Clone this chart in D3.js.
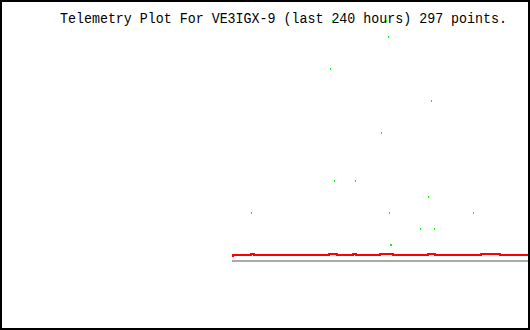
<!DOCTYPE html>
<html>
<head>
<meta charset="utf-8">
<script src="https://cdn.jsdelivr.net/npm/d3@7"></script>
<style>
  html, body { margin: 0; padding: 0; background: #fff; }
  svg { display: block; }
</style>
</head>
<body>
<svg id="chart" width="530" height="330"></svg>
<script>
// ---- data ----
const titleText = "Telemetry Plot For VE3IGX-9 (last 240 hours) 297 points.";
const hoursDomain = [240, 0];           // hours ago
const valueDomain = [0, 240];

// green channel samples (hours ago, value)
const greenHours  = [126.36, 90.45, 89.55, 88.64, 79.09, 67.27, 65.0, 64.09, 63.64, 63.18, 62.73, 49.55, 45.91, 44.55, 43.18, 25.45];
const greenValues = [48, 192, 240, 80, 80, 128, 240, 224, 48, 16, 16, 32, 64, 160, 32, 48];

// red channel (step breakpoints: hours ago, value)
const redHours  = [135.0, 134.5, 126.4, 125.0, 90.9, 87.3, 80.0, 78.6, 67.7, 61.8, 45.9, 42.7, 21.8, 13.2, 0];
const redValues = [5, 6, 7, 6, 7, 6, 7, 6, 7, 6, 7, 6, 7, 6, 6];

// grey baseline channel
const greyHours  = [135.0, 0];
const greyValues = [0, 0];

// ---- drawing ----
const svg = d3.select("#chart");
const W = 530, H = 330;

const x = d3.scaleLinear().domain(hoursDomain).range([1, 529]);
const y = d3.scaleLinear().domain(valueDomain).range([261, 21]);

svg.append("rect").attr("x", 0).attr("y", 0).attr("width", W).attr("height", H).attr("fill", "#fff");

svg.append("text")
  .attr("x", 60)
  .attr("y", 23)
  .attr("font-family", "'Liberation Mono', 'DejaVu Sans Mono', monospace")
  .attr("font-size", 14)
  .attr("textLength", 447)
  .attr("lengthAdjust", "spacingAndGlyphs")
  .attr("fill", "#000")
  .text(titleText);

const line = d3.line()
  .x(d => x(d[0]))
  .y(d => y(d[1]))
  .curve(d3.curveStepAfter);

svg.append("path")
  .datum(d3.zip(greyHours, greyValues))
  .attr("d", line)
  .attr("fill", "none")
  .attr("stroke", "#aaaaaa")
  .attr("stroke-width", 2);

svg.append("path")
  .datum(d3.zip(redHours, redValues))
  .attr("d", line)
  .attr("fill", "none")
  .attr("stroke", "#ff0000")
  .attr("stroke-width", 2);

svg.append("g")
  .selectAll("rect")
  .data(d3.zip(greenHours, greenValues))
  .join("rect")
  .attr("x", d => Math.round(x(d[0])))
  .attr("y", d => y(d[1]) - 1)
  .attr("width", 1)
  .attr("height", 2)
  .attr("fill", "#00ff00")
  .attr("shape-rendering", "crispEdges");

// border
svg.append("rect")
  .attr("x", 1).attr("y", 1)
  .attr("width", W - 2).attr("height", H - 2)
  .attr("fill", "none")
  .attr("stroke", "#000")
  .attr("stroke-width", 2);
</script>
</body>
</html>
